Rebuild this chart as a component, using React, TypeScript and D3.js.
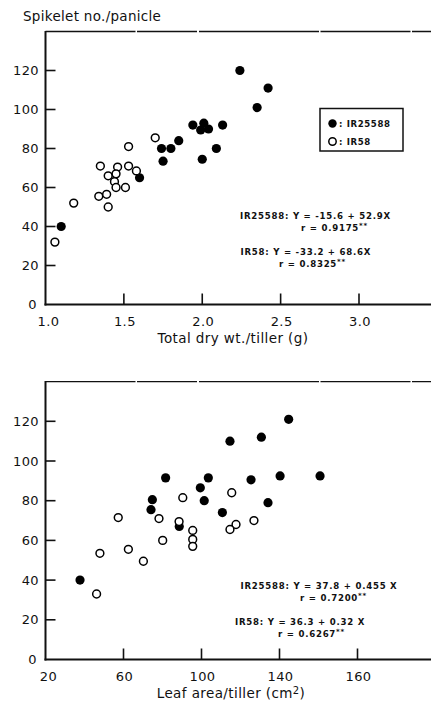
import * as d3 from 'd3';
import React from 'react';

// values
const yTicks = [0, 20, 40, 60, 80, 100, 120];

const dryTicks = [1.0, 1.5, 2.0, 2.5, 3.0];
const dryTickLabels = ['1.0', '1.5', '2.0', '2.5', '3.0'];

const dryIR25588: [number, number][] = [
  [2.24, 120], [2.42, 111], [2.35, 101], [1.94, 92], [2.01, 93], [1.99, 89.5],
  [2.04, 90], [2.13, 92], [1.85, 84], [1.74, 80], [1.8, 80], [1.75, 73.5],
  [2.0, 74.5], [2.09, 80], [1.6, 65], [1.1, 40],
];
const dryIR58: [number, number][] = [
  [1.7, 85.5], [1.53, 81], [1.35, 71], [1.46, 70.5], [1.53, 71], [1.58, 68.5],
  [1.4, 66], [1.45, 67], [1.44, 63], [1.45, 60], [1.51, 60], [1.34, 55.5],
  [1.39, 56.5], [1.4, 50], [1.18, 52], [1.06, 32],
];

// the original figure labels the last tick "160" (misprint kept)
const leafTicks = [20, 60, 100, 140, 180];
const leafTickLabels = ['20', '60', '100', '140', '160'];

const leafIR25588: [number, number][] = [
  [144.7, 121], [130.7, 112], [114.6, 110], [160.8, 92.5], [140.3, 92.5],
  [125.4, 90.5], [103.5, 91.5], [99.4, 86.5], [101.4, 80], [81.6, 91.5],
  [74.8, 80.5], [74.1, 75.5], [134.1, 79], [110.7, 74], [88.6, 67], [37.7, 40],
];
const leafIR58: [number, number][] = [
  [115.5, 84], [90.4, 81.5], [57.3, 71.5], [78.2, 71], [88.5, 69.5], [126.9, 70],
  [117.7, 68], [114.6, 65.5], [95.5, 65], [95.5, 60.5], [95.5, 57], [80.1, 60],
  [62.5, 55.5], [47.9, 53.5], [70.2, 49.5], [46.2, 33],
];

const dryEq = [
  { text: 'IR25588:  Y = -15.6 + 52.9X', r: 'r = 0.9175' },
  { text: 'IR58: Y = -33.2 + 68.6X', r: 'r = 0.8325' },
];
const leafEq = [
  { text: 'IR25588:  Y = 37.8 + 0.455 X', r: 'r = 0.7200' },
  { text: 'IR58: Y = 36.3 + 0.32 X', r: 'r = 0.6267' },
];

const font = '"DejaVu Sans", sans-serif';
const W = 431;
const left = 45.5;

function Panel({ top, bottom, xDomain, xRange, ticks, tickLabels, first, second, eq, eqPos, legend }) {
  const x = d3.scaleLinear().domain(xDomain).range(xRange);
  const y = d3.scaleLinear().domain([0, 140]).range([bottom, top]);

  return (
    <g>
      {/* frame: thin broken top line, heavy left and bottom axes */}
      <line x1={left} x2={W} y1={top} y2={top} stroke="#111" strokeWidth={1.4} strokeDasharray="90 1.5 60 2 120 1.5" />
      <line x1={left} x2={left} y1={top - 0.5} y2={bottom + 1} stroke="#111" strokeWidth={2} />
      <line x1={left - 1} x2={W} y1={bottom} y2={bottom} stroke="#111" strokeWidth={2} />

      {yTicks.map(v => (
        <g key={'y' + v}>
          {v > 0 && <line x1={left} x2={left + 10} y1={y(v)} y2={y(v)} stroke="#111" strokeWidth={1.6} />}
          <text x={v === 0 ? 37 : 39} y={y(v)} dy="0.36em" textAnchor="end" fontSize={13} letterSpacing={0.4} fontFamily={font} fill="#111">{v}</text>
        </g>
      ))}

      {ticks.map((v, i) => (
        <g key={'x' + v}>
          {i > 0 && <line x1={x(v)} x2={x(v)} y1={bottom} y2={bottom - 11} stroke="#111" strokeWidth={1.6} />}
          <text x={x(v) + (i === 0 ? 3 : 1)} y={bottom + 17} dy="0.36em" textAnchor="middle" fontSize={13} letterSpacing={0.4} fontFamily={font} fill="#111">{tickLabels[i]}</text>
        </g>
      ))}

      {first.map((d, i) => (
        <circle key={'f' + i} cx={x(d[0])} cy={y(d[1])} r={4.6} fill="#000" />
      ))}
      {second.map((d, i) => (
        <circle key={'o' + i} cx={x(d[0])} cy={y(d[1])} r={3.9} fill="#fff" stroke="#000" strokeWidth={1.5} />
      ))}

      {eq.map((e, i) => (
        <g key={'e' + i} fontFamily={font} fontWeight="bold" fontSize={8.6} letterSpacing={0.75} fill="#111">
          <text x={eqPos[i][0]} y={eqPos[i][1]} dy="0.36em">{e.text}</text>
          <text x={eqPos[i][2]} y={eqPos[i][1] + 12} dy="0.36em">
            {e.r}<tspan dy="-3" fontSize={7}>**</tspan>
          </text>
        </g>
      ))}

      {legend && (
        <g fontFamily={font} fontWeight="bold" fontSize={8.6} letterSpacing={0.6} fill="#111">
          <rect x={320} y={108.5} width={83} height={42.5} fill="none" stroke="#111" strokeWidth={1.5} />
          <circle cx={332.5} cy={123.5} r={4.2} fill="#000" />
          <text x={339} y={123.5} dy="0.36em">: IR25588</text>
          <circle cx={332.5} cy={141.5} r={3.7} fill="#fff" stroke="#000" strokeWidth={1.5} />
          <text x={339} y={141.5} dy="0.36em">: IR58</text>
        </g>
      )}
    </g>
  );
}

export default function App() {
  return (
    <svg width={W} height={702} style={{ position: 'absolute', left: 0, top: 0, background: '#fff' }}>
      <text x={23} y={16} dy="0.36em" fontSize={13.5} letterSpacing={0.3} fontFamily={font} fill="#111">Spikelet no./panicle</text>

      <Panel
        top={31.5}
        bottom={304.5}
        xDomain={[1.0, 3.0]}
        xRange={[left, 359]}
        ticks={dryTicks}
        tickLabels={dryTickLabels}
        first={dryIR25588}
        second={dryIR58}
        eq={dryEq}
        eqPos={[[240, 216, 301], [240.5, 252, 279]]}
        legend
      />
      <text x={233} y={338} dy="0.36em" textAnchor="middle" fontSize={13.5} letterSpacing={0.4} fontFamily={font} fill="#111">Total dry wt./tiller (g)</text>

      <Panel
        top={381.6}
        bottom={659.5}
        xDomain={[20, 180]}
        xRange={[left, 357.5]}
        ticks={leafTicks}
        tickLabels={leafTickLabels}
        first={leafIR25588}
        second={leafIR58}
        eq={leafEq}
        eqPos={[[240.5, 585.5, 300], [235, 621.5, 278]]}
      />
      <text x={231} y={693} dy="0.36em" textAnchor="middle" fontSize={13.5} letterSpacing={0.4} fontFamily={font} fill="#111">
        Leaf area/tiller (cm<tspan dy="-4" fontSize={10}>2</tspan><tspan dy="4">)</tspan>
      </text>
    </svg>
  );
}
